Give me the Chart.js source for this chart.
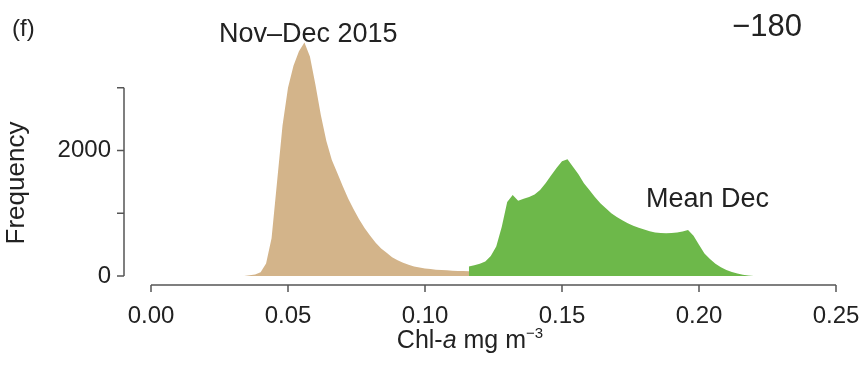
<!DOCTYPE html>
<html lang="en">
<head>
  <meta charset="UTF-8" />
  <title>Chl-a frequency (f)</title>
  <script src="https://cdn.jsdelivr.net/npm/chart.js"></script>
  <style>
    body {
      margin: 0;
      background: #fff;
    }
    canvas {
      display: block;
    }
  </style>
</head>
<body>
  <canvas id="chlChart" width="863" height="366"></canvas>

  <script>
    // Nov–Dec 2015 histogram (bin centres, mg m-3)
    const novDecBins = [0.034, 0.036, 0.038, 0.040, 0.042, 0.044, 0.046, 0.048, 0.050, 0.052,
      0.054, 0.056, 0.058, 0.060, 0.062, 0.064, 0.066, 0.068, 0.070, 0.072,
      0.074, 0.076, 0.078, 0.080, 0.082, 0.084, 0.086, 0.088, 0.090, 0.092,
      0.094, 0.096, 0.098, 0.100, 0.102, 0.104, 0.106, 0.108, 0.110, 0.112,
      0.114, 0.116, 0.118, 0.120];
    const novDecFreq = [0, 10, 25, 60, 200, 600, 1500, 2400, 3000, 3350,
      3580, 3720, 3500, 3050, 2560, 2150, 1850, 1640, 1430, 1230,
      1060, 900, 760, 640, 530, 440, 370, 300, 250, 210,
      180, 150, 135, 120, 110, 100, 95, 90, 85, 80,
      80, 75, 70, 60];

    // Mean December histogram
    const meanDecBins = [0.116, 0.118, 0.120, 0.122, 0.124, 0.126, 0.128, 0.130,
      0.132, 0.134, 0.136, 0.138, 0.140, 0.142, 0.144, 0.146, 0.148, 0.150,
      0.152, 0.154, 0.156, 0.158, 0.160, 0.162, 0.164, 0.166, 0.168, 0.170,
      0.172, 0.174, 0.176, 0.178, 0.180, 0.182, 0.184, 0.186, 0.188, 0.190,
      0.192, 0.194, 0.196, 0.198, 0.200, 0.202, 0.204, 0.206, 0.208, 0.210,
      0.212, 0.214, 0.216, 0.218, 0.220];
    const meanDecFreq = [150, 170, 195, 230, 320, 470, 780, 1180,
      1290, 1200, 1230, 1260, 1300, 1370, 1480, 1600, 1720, 1830,
      1860, 1740, 1620, 1480, 1370, 1260, 1160, 1080, 1000, 940,
      890, 840, 800, 770, 740, 715, 695, 685, 680, 685,
      695, 710, 735, 640, 500, 360, 270, 195, 140, 95,
      65, 40, 20, 8, 0];

    const xTicks = [0, 0.05, 0.10, 0.15, 0.20, 0.25];
    const xTickLabels = ['0.00', '0.05', '0.10', '0.15', '0.20', '0.25'];
    const yTicks = [0, 1000, 2000, 3000];
    const yTickLabels = ['0', '', '2000', ''];

    const FONT = '"Liberation Sans", Arial, sans-serif';
    const TEXT = '#222';
    const AXIS = '#555';

    function toPoints(xs, ys) {
      return xs.map((x, i) => ({ x: x, y: ys[i] }));
    }

    // R-style detached axes and the text around the plot
    const frame = {
      id: 'frame',
      afterDraw(chart) {
        const ctx = chart.ctx;
        const xs = chart.scales.x;
        const ys = chart.scales.y;
        ctx.save();
        ctx.strokeStyle = AXIS;
        ctx.lineWidth = 1.5;
        ctx.fillStyle = TEXT;

        // y axis
        const yAxisX = 124;
        ctx.beginPath();
        ctx.moveTo(yAxisX, ys.getPixelForValue(yTicks[0]));
        ctx.lineTo(yAxisX, ys.getPixelForValue(yTicks[yTicks.length - 1]));
        yTicks.forEach(v => {
          const py = ys.getPixelForValue(v);
          ctx.moveTo(yAxisX - 7, py);
          ctx.lineTo(yAxisX, py);
        });
        ctx.stroke();
        ctx.font = '24px ' + FONT;
        ctx.textAlign = 'right';
        ctx.textBaseline = 'middle';
        yTicks.forEach((v, i) => {
          if (yTickLabels[i]) ctx.fillText(yTickLabels[i], yAxisX - 13, ys.getPixelForValue(v));
        });

        // x axis
        const xAxisY = 285;
        ctx.beginPath();
        ctx.moveTo(xs.getPixelForValue(xTicks[0]), xAxisY);
        ctx.lineTo(xs.getPixelForValue(xTicks[xTicks.length - 1]), xAxisY);
        xTicks.forEach(v => {
          const px = xs.getPixelForValue(v);
          ctx.moveTo(px, xAxisY);
          ctx.lineTo(px, xAxisY + 7);
        });
        ctx.stroke();
        ctx.textAlign = 'center';
        ctx.textBaseline = 'alphabetic';
        xTicks.forEach((v, i) => {
          ctx.fillText(xTickLabels[i], xs.getPixelForValue(v), 323);
        });

        // x title: Chl-a mg m^-3
        const parts = [
          { t: 'Chl-', f: '25px ' + FONT, dy: 0 },
          { t: 'a', f: 'italic 25px ' + FONT, dy: 0 },
          { t: ' mg m', f: '25px ' + FONT, dy: 0 },
          { t: '\u22123', f: '15px ' + FONT, dy: -10 }
        ];
        let total = 0;
        parts.forEach(p => { ctx.font = p.f; total += ctx.measureText(p.t).width; });
        let cx = 470 - total / 2;
        ctx.textAlign = 'left';
        parts.forEach(p => {
          ctx.font = p.f;
          ctx.fillText(p.t, cx, 348 + p.dy);
          cx += ctx.measureText(p.t).width;
        });

        // y title
        ctx.save();
        ctx.translate(24, 183);
        ctx.rotate(-Math.PI / 2);
        ctx.font = '26px ' + FONT;
        ctx.textAlign = 'center';
        ctx.fillText('Frequency', 0, 0);
        ctx.restore();

        // panel letter, series labels, longitude
        ctx.textAlign = 'left';
        ctx.font = '24px ' + FONT;
        ctx.fillText('(f)', 12, 36);
        ctx.font = '27px ' + FONT;
        ctx.fillText('Nov\u2013Dec 2015', 219, 42);
        ctx.font = '27px ' + FONT;
        ctx.fillText('Mean Dec', 646, 207);
        ctx.font = '31px ' + FONT;
        ctx.textAlign = 'center';
        ctx.fillText('\u2212180', 767, 36);
        ctx.restore();
      }
    };

    new Chart(document.getElementById('chlChart').getContext('2d'), {
      type: 'line',
      data: {
        datasets: [
          {
            label: 'Mean Dec',
            data: toPoints(meanDecBins, meanDecFreq),
            backgroundColor: '#6db84a',
            borderWidth: 0,
            pointRadius: 0,
            fill: 'origin',
            order: 0
          },
          {
            label: 'Nov–Dec 2015',
            data: toPoints(novDecBins, novDecFreq),
            backgroundColor: '#d3b48a',
            borderWidth: 0,
            pointRadius: 0,
            fill: 'origin',
            order: 1
          }
        ]
      },
      options: {
        responsive: false,
        animation: false,
        devicePixelRatio: 1,
        layout: { padding: { left: 151, right: 27, top: 25, bottom: 90 } },
        plugins: {
          legend: { display: false },
          tooltip: { enabled: false }
        },
        scales: {
          x: { type: 'linear', min: 0, max: 0.25, display: false },
          y: { min: 0, max: 4000, display: false }
        }
      },
      plugins: [frame]
    });
  </script>
</body>
</html>
